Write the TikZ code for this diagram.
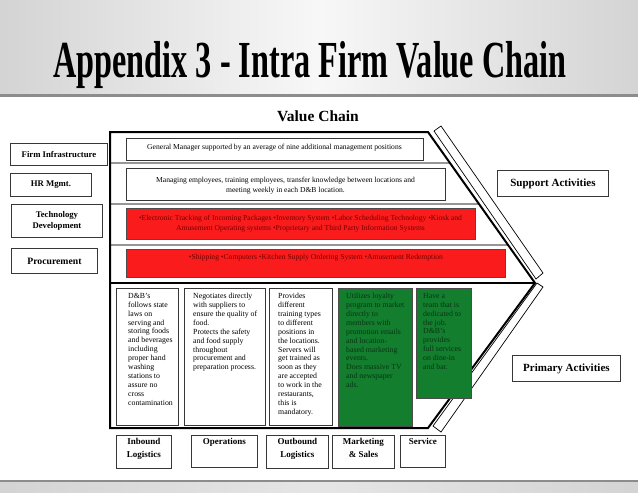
\documentclass[tikz,border=0pt]{standalone}
\usepackage{fontspec}
\setmainfont{Liberation Serif}
\definecolor{redfill}{RGB}{250,28,28}
\definecolor{redtext}{RGB}{115,0,0}
\definecolor{greenfill}{RGB}{18,126,46}
\definecolor{greentext}{RGB}{10,52,20}
\definecolor{boxline}{RGB}{55,55,55}
\definecolor{divline}{RGB}{150,150,150}
\begin{document}
\begin{tikzpicture}[x=1pt,y=-1pt,
  bx/.style={draw=boxline, line width=0.9pt, inner sep=0pt, anchor=north west},
  lbl/.style={bx, font=\bfseries\fontsize{8.7}{11}\selectfont, align=center},
  bigl/.style={bx, font=\bfseries\fontsize{11}{13}\selectfont, align=center},
  redbox/.style={bx, fill=redfill, draw=black!70},
  greenbox/.style={bx, fill=greenfill, draw=black!70},
  rowtext/.style={inner sep=0pt, anchor=north, align=center, font=\fontsize{7.6}{10}\selectfont},
  coltext/.style={inner sep=0pt, anchor=north west, align=left, font=\fontsize{7.8}{8.9}\selectfont},
  bottext/.style={inner sep=0pt, anchor=north, align=center, font=\bfseries\fontsize{9}{13}\selectfont},
  chev/.style={line width=2pt, black},
  band/.style={line width=0.7pt, black}
]
\useasboundingbox (0,0) rectangle (638,493);
% background
\fill[white] (0,0) rectangle (638,493);
\shade[left color=black!17, right color=black!17, middle color=black!3] (0,0) rectangle (638,95);
\draw[line width=2.5pt, black!45] (0,95.5) -- (638,95.5);
\shade[left color=black!17, right color=black!17, middle color=black!10] (0,481) rectangle (638,493);
\draw[line width=2pt, black!45] (0,481) -- (638,481);

% title
\node[inner sep=0pt, anchor=base] (title) at (310,77)
  {\scalebox{0.62}[1]{\bfseries\fontsize{52}{52}\selectfont Appendix 3 - Intra Firm Value Chain}};
\node[inner sep=0pt, anchor=base] (vc) at (318,121) {\bfseries\fontsize{15.5}{16}\selectfont Value Chain};

% bands beside the chevron
\draw[band] (434,131) -- (441,126) -- (543,273) -- (536,279) -- cycle;
\draw[band] (537,283) -- (543,287) -- (441,432) -- (433,426) -- cycle;

% thin dividers in support area
\draw[line width=1.3pt, divline] (110,163) -- (450,163);
\draw[line width=1.3pt, divline] (110,204) -- (479,204);
\draw[line width=1.3pt, divline] (110,245) -- (508,245);

% chevron outline
\draw[chev, line join=miter] (110,132) -- (428,132) -- (535,283) -- (428,428) -- (110,428) -- cycle;
\draw[chev] (110,283) -- (535,283);

% left labels
\node[lbl, minimum width=97, minimum height=22] (lFirm) at (10,143) {Firm Infrastructure};
\node[lbl, minimum width=81, minimum height=23] (lHR) at (10,173) {HR Mgmt.};
\node[lbl, minimum width=91, minimum height=33] (lTech) at (11,204) {Technology\\Development};
\node[lbl, minimum width=86, minimum height=25, font=\bfseries\fontsize{9.7}{11}\selectfont] (lProc) at (11,248) {Procurement};

% support rows
\node[bx, minimum width=297, minimum height=22] (rFirm) at (126,138) {};
\node[rowtext] (tFirm) at (274.5,143.5) {General Manager supported by an average of nine additional management positions};
\node[bx, minimum width=319, minimum height=32] (rHR) at (126,168) {};
\node[rowtext] (tHR) at (285.5,176.5) {Managing employees, training employees, transfer knowledge between locations and\\meeting weekly in each D\&B location.};
\node[redbox, minimum width=349, minimum height=31] (rTech) at (126,208) {};
\node[rowtext, text=redtext] (tTech) at (300.5,214.5) {\textbullet Electronic Tracking of Incoming Packages \textbullet Inventory System \textbullet Labor Scheduling Technology \textbullet Kiosk and\\Amusement Operating systems \textbullet Proprietary and Third Party Information Systems};
\node[redbox, minimum width=379, minimum height=28] (rProc) at (126,249) {};
\node[rowtext, text=redtext] (tProc) at (316,254.5) {\textbullet Shipping \textbullet Computers \textbullet Kitchen Supply Ordering System \textbullet Amusement Redemption};

% side labels
\node[bigl, minimum width=111, minimum height=26] (sup) at (497,170) {Support Activities};
\node[bigl, minimum width=108, minimum height=26] (pri) at (512,355) {Primary Activities};

% primary columns
\node[bx, minimum width=62, minimum height=137] (c1) at (116,288) {};
\node[bx, minimum width=81, minimum height=137] (c2) at (184,288) {};
\node[bx, minimum width=63, minimum height=137] (c3) at (269,288) {};
\node[greenbox, minimum width=74, minimum height=138] (c4) at (338,288) {};
\node[greenbox, minimum width=55, minimum height=110] (c5) at (416,288) {};

\node[coltext] (t1) at (128,293) {D\&B’s\\follows state\\laws on\\serving and\\storing foods\\and beverages\\including\\proper hand\\washing\\stations to\\assure no\\cross\\contamination};
\node[coltext] (t2) at (193,293) {Negotiates directly\\with suppliers to\\ensure the quality of\\food.\\Protects the safety\\and food supply\\throughout\\procurement and\\preparation process.};
\node[coltext] (t3) at (278,293) {Provides\\different\\training types\\to different\\positions in\\the locations.\\Servers will\\get trained as\\soon as they\\are accepted\\to work in the\\restaurants,\\this is\\mandatory.};
\node[coltext, text=greentext] (t4) at (346,293) {Utilizes loyalty\\program to market\\directly to\\members with\\promotion emails\\and location-\\based marketing\\events.\\Does massive TV\\and newspaper\\ads.};
\node[coltext, text=greentext] (t5) at (423,293) {Have a\\team that is\\dedicated to\\the job.\\D\&B’s\\provides\\full services\\on dine-in\\and bar.};

% bottom labels
\node[bx, minimum width=55, minimum height=33] (bIn) at (116,435) {};
\node[bx, minimum width=66, minimum height=32] (bOps) at (191,435) {};
\node[bx, minimum width=62, minimum height=33] (bOut) at (266,435) {};
\node[bx, minimum width=62, minimum height=33] (bMkt) at (332,435) {};
\node[bx, minimum width=45, minimum height=32] (bSvc) at (400,435) {};
\node[bottext] (tIn) at (bIn.north) [yshift=-3.5pt] {Inbound\\Logistics};
\node[bottext] (tOps) at (bOps.north) [yshift=-3.5pt] {Operations};
\node[bottext] (tOut) at (bOut.north) [yshift=-3.5pt] {Outbound\\Logistics};
\node[bottext] (tMkt) at (bMkt.north) [yshift=-3.5pt] {Marketing\\\& Sales};
\node[bottext] (tSvc) at (bSvc.north) [yshift=-3pt] {Service};
\end{tikzpicture}
\end{document}
